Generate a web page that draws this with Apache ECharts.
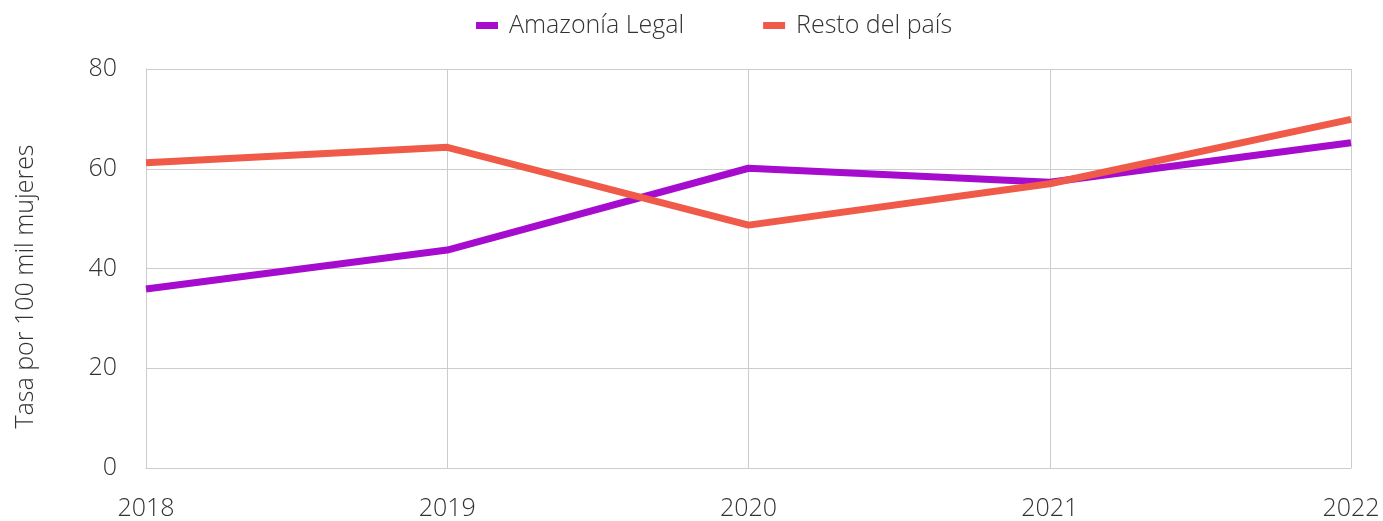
<!DOCTYPE html>
<html>
<head>
<meta charset="utf-8">
<script src="https://cdn.jsdelivr.net/npm/echarts@6/dist/echarts.min.js"></script>
<style>
  html, body { margin: 0; padding: 0; background: #fff; }
  #chart { width: 1383px; height: 521px; }
</style>
</head>
<body>
<div id="chart"></div>
<script>
const years = ['2018', '2019', '2020', '2021', '2022'];
const amazonia = [35.9, 43.7, 60.1, 57.3, 65.2];
const resto = [61.2, 64.3, 48.7, 57.0, 69.9];
const yTicks = { min: 0, max: 80, interval: 20 };

const font = 'Open Sans, Liberation Sans, Arial, sans-serif';
const textColor = '#333';
const gridColor = '#cccccc';

let chart = echarts.init(document.getElementById('chart'));
chart.setOption({
  animation: false,
  textStyle: { fontFamily: font, fontWeight: 300 },
  legend: {
    top: 8,
    left: 471,
    itemWidth: 22,
    itemHeight: 7,
    itemGap: 79,
    icon: 'rect',
    textStyle: { fontSize: 25, color: textColor, fontFamily: font, fontWeight: 300, padding: [0, 0, 0, 6] },
    data: ['Amazonía Legal', 'Resto del país']
  },
  grid: { left: 146, right: 32, top: 69, bottom: 53, containLabel: false },
  xAxis: {
    type: 'category',
    data: years,
    boundaryGap: false,
    axisLine: { show: true, lineStyle: { color: gridColor, width: 1 } },
    axisTick: { show: false },
    splitLine: { show: true, lineStyle: { color: gridColor, width: 1 } },
    axisLabel: { fontSize: 25, color: textColor, margin: 28, fontFamily: font, fontWeight: 300 }
  },
  yAxis: {
    type: 'value',
    min: yTicks.min,
    max: yTicks.max,
    interval: yTicks.interval,
    name: 'Tasa por 100 mil mujeres',
    nameLocation: 'middle',
    nameGap: 108,
    nameTextStyle: { fontSize: 25, color: textColor, fontFamily: font, fontWeight: 300, padding: [0, 36, 0, 0] },
    axisLine: { show: true, lineStyle: { color: gridColor, width: 1 } },
    axisTick: { show: false },
    splitLine: { show: true, lineStyle: { color: gridColor, width: 1 } },
    axisLabel: { fontSize: 25, color: textColor, margin: 29, fontFamily: font, fontWeight: 300 }
  },
  series: [
    {
      name: 'Amazonía Legal',
      type: 'line',
      data: amazonia,
      symbol: 'none',
      lineStyle: { width: 7, color: '#a60ccd' },
      itemStyle: { color: '#a60ccd' }
    },
    {
      name: 'Resto del país',
      type: 'line',
      data: resto,
      symbol: 'none',
      lineStyle: { width: 7, color: '#f05a48' },
      itemStyle: { color: '#f05a48' }
    }
  ]
});
</script>
</body>
</html>
